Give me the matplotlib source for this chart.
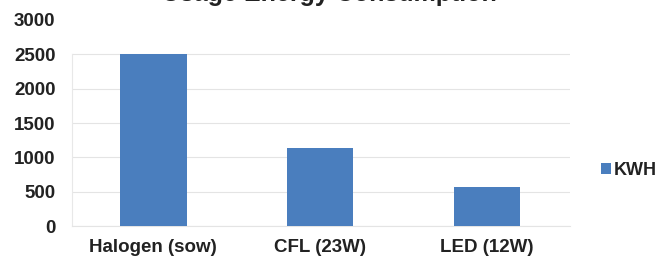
import matplotlib
matplotlib.use("Agg")
import matplotlib.pyplot as plt

categories = ["Halogen (sow)", "CFL (23W)", "LED (12W)"]
kwh = [2500, 1130, 570]
yticks = [0, 500, 1000, 1500, 2000, 2500, 3000]
series_name = "KWH"
title = "Usage Energy Consumption"

plt.rcParams['font.family'] = ['Liberation Sans', 'DejaVu Sans']
text_color = "#222222"
bar_color = "#4A7EBE"
fs = 13.5

fig = plt.figure(figsize=(6.62, 2.62), dpi=100)
ax = fig.add_axes([0.109, 0.137, 0.752, 0.787])

x = list(range(len(categories)))
ax.bar(x, kwh, width=0.4, color=bar_color, label=series_name, zorder=3)
ax.set_xlim(-0.485, 2.497)
ax.set_ylim(0, 3000)
ax.set_yticks(yticks)
ax.set_yticklabels([str(v) for v in yticks], fontsize=fs, fontweight='bold', color=text_color)
ax.set_xticks(x)
ax.set_xticklabels(categories, fontsize=fs, fontweight='bold', color=text_color)
ax.tick_params(axis='y', length=0, pad=12)
ax.tick_params(axis='x', length=0, pad=9)
ax.grid(axis='y', color='#e4e4e4', linewidth=0.8, zorder=0)
ax.get_ygridlines()[-1].set_visible(False)
for s in ['top', 'right']:
    ax.spines[s].set_visible(False)
ax.spines['left'].set_color('#e8e8e8')
ax.spines['left'].set_bounds(0, 2500)
ax.spines['bottom'].set_color('#e4e4e4')

ax.legend(loc='center left', bbox_to_anchor=(1.044, 0.272), frameon=False,
          handlelength=0.55, handleheight=0.55, handletextpad=0.15, borderpad=0,
          prop={'family': 'Liberation Sans', 'weight': 'bold', 'size': 13},
          labelcolor=text_color)

fig.text(0.497, 1 - 1/262, title, ha='center', va='baseline', fontsize=18,
         fontweight='bold', color=text_color)

fig.savefig("out.png", dpi=100)
